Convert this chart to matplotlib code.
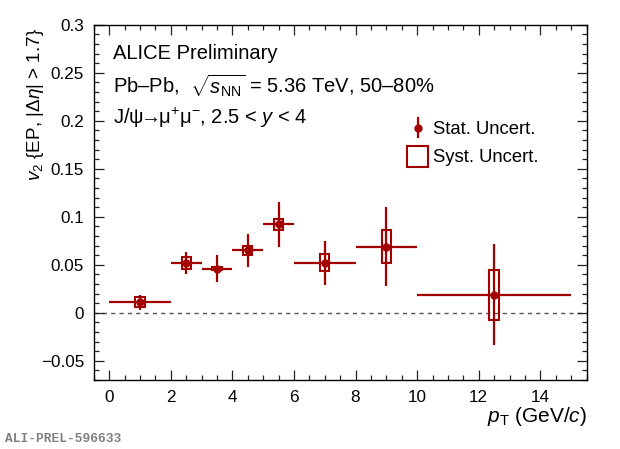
import matplotlib
matplotlib.use("Agg")
import matplotlib.pyplot as plt
from matplotlib.patches import Rectangle
from matplotlib.ticker import MultipleLocator
import numpy as np

# ---- data ----
pt_center = [1.0, 2.5, 3.5, 4.5, 5.5, 7.0, 9.0, 12.5]
pt_halfwidth = [1.0, 0.5, 0.5, 0.5, 0.5, 1.0, 1.0, 2.5]
v2 = [0.011, 0.052, 0.046, 0.065, 0.092, 0.052, 0.069, 0.019]
stat_err = [0.008, 0.0115, 0.014, 0.017, 0.023, 0.023, 0.041, 0.053]
syst_err = [0.0055, 0.0059, 0.0016, 0.0047, 0.0057, 0.0087, 0.0172, 0.026]

x_ticks = [0, 2, 4, 6, 8, 10, 12, 14]
y_ticks = [-0.05, 0, 0.05, 0.1, 0.15, 0.2, 0.25, 0.3]

COL = "#a30000"
W, H = 620, 449

plt.rcParams['font.family'] = ['Liberation Sans', 'DejaVu Sans']
plt.rcParams['mathtext.fontset'] = 'custom'
plt.rcParams['mathtext.rm'] = 'Liberation Sans'
plt.rcParams['mathtext.it'] = 'Liberation Sans:italic'
plt.rcParams['mathtext.bf'] = 'Liberation Sans:bold'

fig = plt.figure(figsize=(W / 100, H / 100), dpi=100)
ax_l, ax_r, ax_t, ax_b = 93.8, 586.5, 24.7, 380
ax = fig.add_axes([ax_l / W, 1 - ax_b / H, (ax_r - ax_l) / W, (ax_b - ax_t) / H])

ax.set_xlim(-0.5, 15.5)
ax.set_ylim(-0.07, 0.3)

ax.axhline(0, color="#555555", lw=1.0, ls=(0, (3, 3)), zorder=1)

box_hw = 0.15
for xc, yc, se in zip(pt_center, v2, syst_err):
    ax.add_patch(Rectangle((xc - box_hw, yc - se), 2 * box_hw, 2 * se,
                           fill=False, edgecolor=COL, lw=1.5, zorder=3))

ax.errorbar(pt_center, v2, xerr=pt_halfwidth, yerr=stat_err, fmt='o',
            color=COL, ms=5, elinewidth=1.6, capsize=0, zorder=4)

ax.set_xticks(x_ticks)
ax.set_xticklabels([f"{t:g}" for t in x_ticks])
ax.set_yticks(y_ticks)
ax.set_yticklabels(["\u22120.05" if t < 0 else f"{t:g}" for t in y_ticks])
ax.xaxis.set_minor_locator(MultipleLocator(0.5))
ax.yaxis.set_minor_locator(MultipleLocator(0.01))
ax.tick_params(which='both', direction='in', top=True, right=True, width=0.9, color='#222222')
ax.tick_params(which='major', length=7, labelsize=12.3, pad=7)
ax.tick_params(which='minor', length=3.5)
for s in ax.spines.values():
    s.set_linewidth(1.0)

ax.set_xlabel(r"$p_{\rm T}$ (GeV/$c$)", fontsize=15, loc='right')
ax.xaxis.set_label_coords(1.0, -(405 - ax_b) / (ax_b - ax_t) - 0.0)
ax.xaxis.label.set_va('top')
ax.set_ylabel(r"$v_{2}$ {EP, |$\Delta\eta$| > 1.7}", fontsize=13.6, loc='top')
ax.yaxis.set_label_coords((46 - ax_l) / (ax_r - ax_l), 1 - (28 - ax_t) / (ax_b - ax_t))

def fy(py):
    return 1 - py / H

FS = 14.5
fig.text(113 / W, fy(59.3), "ALICE Preliminary", fontsize=FS, va='baseline', ha='left')
fig.text(113 / W, fy(93.3), r"Pb–Pb,  $\sqrt{s_{\rm NN}}$ = 5.36 TeV, 50–80%", fontsize=FS,
         va='baseline', ha='left')
fig.text(113 / W, fy(123.5), r"J/ψ$\!\!\rightarrow\!\!$μ$^{+}$μ$^{-}$, 2.5 < $y$ < 4", fontsize=FS,
         va='baseline', ha='left')

# legend
fig.add_artist(plt.Line2D([417.5 / W, 417.5 / W], [fy(118), fy(136.7)], color=COL, lw=1.6))
fig.add_artist(plt.Line2D([417.5 / W], [fy(128.3)], marker='o', ms=5, color=COL))
fig.text(433.3 / W, fy(134), "Stat. Uncert.", fontsize=13.3, va='baseline', ha='left')
fig.add_artist(Rectangle((407 / W, fy(167)), 21.3 / W, 21 / H, fill=False,
                         edgecolor=COL, lw=1.5, transform=fig.transFigure))
fig.text(433.3 / W, fy(161.5), "Syst. Uncert.", fontsize=13.3, va='baseline', ha='left')

fig.text(5 / W, fy(441.5), "ALI-PREL-596633", fontsize=9.3, family='Liberation Mono',
         weight='bold', color='#808080', va='baseline', ha='left')

fig.savefig("out.png", dpi=100)
